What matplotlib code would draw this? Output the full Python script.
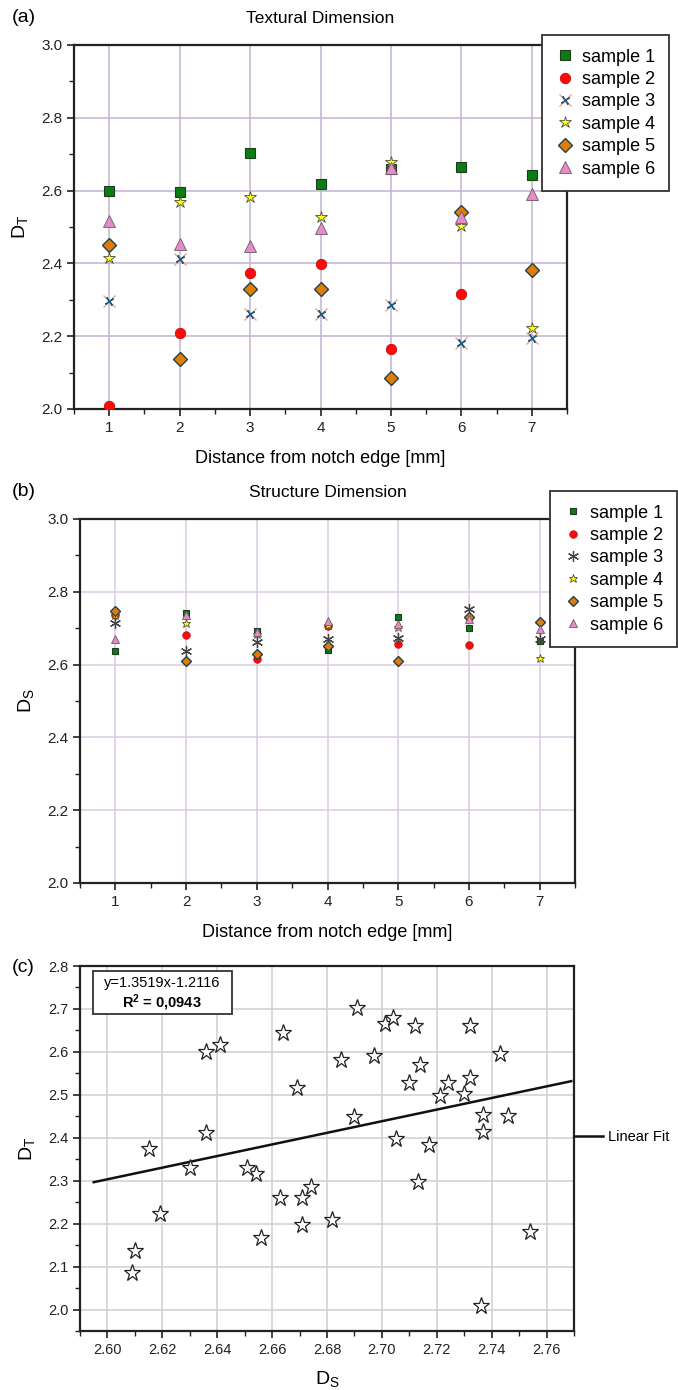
import numpy as np
import matplotlib
matplotlib.use("Agg")
import matplotlib.pyplot as plt
from matplotlib.patches import Rectangle
from matplotlib.ticker import MultipleLocator, FormatStrFormatter

plt.rcParams['font.family'] = ['Liberation Sans', 'DejaVu Sans']
plt.rcParams['mathtext.fontset'] = 'custom'
plt.rcParams['mathtext.rm'] = 'Liberation Sans'
plt.rcParams['mathtext.bf'] = 'Liberation Sans:bold'

nan = np.nan

# distance from the notch edge [mm]
distance = [1, 2, 3, 4, 5, 6, 7]
sample_names = ["sample 1", "sample 2", "sample 3", "sample 4", "sample 5", "sample 6"]

# textural dimension D_T per sample
dt_s1 = [2.600, 2.595, 2.702, 2.617, 2.660, 2.666, 2.643]
dt_s2 = [2.009, 2.208, 2.374, 2.398, 2.166, 2.315, nan]
dt_s3 = [2.298, 2.412, 2.260, 2.260, 2.285, 2.180, 2.196]
dt_s4 = [2.414, 2.570, 2.582, 2.528, 2.678, 2.503, 2.223]
dt_s5 = [2.451, 2.137, 2.329, 2.329, 2.086, 2.540, 2.382]
dt_s6 = [2.516, 2.453, 2.448, 2.497, 2.661, 2.527, 2.590]

# structure dimension D_S per sample
ds_s1 = [2.636, 2.743, 2.691, 2.641, 2.732, 2.701, 2.664]
ds_s2 = [2.736, 2.682, 2.615, 2.705, 2.656, 2.654, nan]
ds_s3 = [2.713, 2.636, 2.663, 2.671, 2.674, 2.754, 2.671]
ds_s4 = [2.737, 2.714, 2.685, 2.710, 2.704, 2.730, 2.619]
ds_s5 = [2.746, 2.610, 2.630, 2.651, 2.609, 2.732, 2.717]
ds_s6 = [2.669, 2.737, 2.690, 2.721, 2.712, 2.724, 2.697]

# linear fit D_T = slope * D_S + intercept
fit_slope = 1.3519
fit_intercept = -1.2116
fit_r2 = "0,0943"
fit_range = [2.595, 2.769]

dt_all = [dt_s1, dt_s2, dt_s3, dt_s4, dt_s5, dt_s6]
ds_all = [ds_s1, ds_s2, ds_s3, ds_s4, ds_s5, ds_s6]

W, H = 678, 1390
fig = plt.figure(figsize=(W / 100, H / 100), dpi=100)


def box(l, t, r, b):
    return [l / W, 1 - b / H, (r - l) / W, (b - t) / H]


ax_a = fig.add_axes(box(74, 45, 567, 409))
ax_b = fig.add_axes(box(80, 519, 575, 883))
ax_c = fig.add_axes(box(80, 966, 574, 1331))

spine_col = '#222222'


def style_axes(ax, grid_col, tick_fs):
    for s in ax.spines.values():
        s.set_linewidth(1.6)
        s.set_color(spine_col)
    ax.tick_params(which='both', direction='out', colors=spine_col,
                   labelsize=tick_fs, top=False, right=False)
    ax.tick_params(which='major', length=5, width=1.2)
    ax.tick_params(which='minor', length=3.5, width=1.0)
    ax.grid(True, which='major', color=grid_col, lw=1.1, zorder=0)
    ax.set_axisbelow(True)


def dimension_panel(ax, values, big, grid_col, title, ylab, legend_anchor):
    ax.set_xlim(0.5, 7.5)
    ax.set_ylim(2.0, 3.0)
    ax.xaxis.set_major_locator(MultipleLocator(1))
    ax.xaxis.set_minor_locator(MultipleLocator(0.5))
    ax.yaxis.set_major_locator(MultipleLocator(0.2))
    ax.yaxis.set_minor_locator(MultipleLocator(0.1))
    ax.yaxis.set_major_formatter(FormatStrFormatter('%.1f'))
    style_axes(ax, grid_col, 11)

    k = 1.0 if big else 0.72
    handles = []
    h, = ax.plot(distance, values[0], ls='none', marker='s', ms=6.5 * k,
                 mfc='#0b7d12', mec='#1d3b1d', mew=0.8, zorder=3)
    handles.append(h)
    h, = ax.plot(distance, values[1], ls='none', marker='o', ms=7.5 * k,
                 mfc='#ff0a0a', mec='#c01010', mew=0.6, zorder=3)
    handles.append(h)
    if big:
        h1, = ax.plot(distance, values[2], ls='none', marker='x', ms=8,
                      mec='#e9a58a', mew=1.0, zorder=3)
        h2, = ax.plot(distance, values[2], ls='none', marker=(4, 2, 35), ms=7,
                      mec='#1f5a80', mew=1.0, zorder=3)
        handles.append((h1, h2))
    else:
        h, = ax.plot(distance, values[2], ls='none', marker=(6, 2, 0), ms=8,
                     mec='#444444', mew=0.9, zorder=3)
        handles.append(h)
    h, = ax.plot(distance, values[3], ls='none', marker='*', ms=9 * k,
                 mfc='#ffff10', mec='#505030', mew=0.6, zorder=3)
    handles.append(h)
    h, = ax.plot(distance, values[4], ls='none', marker='D', ms=7.2 * k,
                 mfc='#dd7f06', mec='#24404c', mew=1.0, zorder=3)
    handles.append(h)
    h, = ax.plot(distance, values[5], ls='none', marker='^', ms=8.5 * k,
                 mfc='#e48bc8', mec='#6a5a6a', mew=0.6, zorder=3)
    handles.append(h)

    ax.set_title(title, fontsize=12.5, pad=15.5)
    ax.set_xlabel('Distance from notch edge [mm]', fontsize=13, labelpad=11)
    ax.set_ylabel(ylab, fontsize=14, labelpad=8)

    leg = ax.legend(handles, sample_names, loc='upper left',
                    bbox_to_anchor=legend_anchor, bbox_transform=fig.transFigure,
                    borderaxespad=0, fontsize=13, frameon=True, fancybox=False,
                    framealpha=1, edgecolor='#333333', handlelength=1.0,
                    handletextpad=0.45, labelspacing=0.3, borderpad=0.75)
    leg.get_frame().set_linewidth(1.3)
    leg.set_zorder(10)


dimension_panel(ax_a, dt_all, True, '#c2b3cf', 'Textural Dimension',
                r'$\mathregular{D_T}$', (542 / W, 1 - 35 / H))
dimension_panel(ax_b, ds_all, False, '#dacbe3', 'Structure Dimension',
                r'$\mathregular{D_S}$', (550 / W, 1 - 491 / H))

# panel (c): D_T against D_S for every sample and position
ax = ax_c
ax.set_xlim(2.59, 2.77)
ax.set_ylim(1.95, 2.8)
ax.xaxis.set_major_locator(MultipleLocator(0.02))
ax.xaxis.set_minor_locator(MultipleLocator(0.01))
ax.yaxis.set_major_locator(MultipleLocator(0.1))
ax.yaxis.set_minor_locator(MultipleLocator(0.05))
ax.xaxis.set_major_formatter(FormatStrFormatter('%.2f'))
ax.yaxis.set_major_formatter(FormatStrFormatter('%.1f'))
style_axes(ax, '#d0d0d0', 10.5)

xs = np.concatenate([np.asarray(v, float) for v in ds_all])
ys = np.concatenate([np.asarray(v, float) for v in dt_all])
ax.plot(xs, ys, ls='none', marker='*', ms=12.5, mfc='white', mec='#222222',
        mew=0.9, zorder=3)

fx = np.array(fit_range)
fit_line, = ax.plot(fx, fit_slope * fx + fit_intercept, color='#111111',
                    lw=1.8, zorder=2)

ax.add_patch(Rectangle((93 / W, 1 - 1014 / H), (232 - 93) / W, (1014 - 971) / H,
                       transform=fig.transFigure, fill=True, facecolor='white',
                       edgecolor='#333333', lw=1.3, zorder=5))
fig.text(162 / W, 1 - 983 / H, 'y=1.3519x-1.2116', fontsize=10.5,
         ha='center', va='center', zorder=6)
fig.text(162 / W, 1 - 1003 / H, r'$\mathbf{R^2}$' + ' = ' + fit_r2,
         fontsize=10.5, fontweight='bold', ha='center', va='center', zorder=6)

ax.set_xlabel(r'$\mathregular{D_S}$', fontsize=14, labelpad=9)
ax.set_ylabel(r'$\mathregular{D_T}$', fontsize=14, labelpad=8)

fig.legend([fit_line], ['Linear Fit'], loc='center left',
           bbox_to_anchor=(574 / W, 1 - 1137 / H), frameon=False, fontsize=10.5,
           handlelength=2.0, handletextpad=0.3, borderaxespad=0, borderpad=0)

# panel letters
fig.text(12 / W, 1 - 18 / H, '(a)', fontsize=14, ha='left', va='center')
fig.text(12 / W, 1 - 492 / H, '(b)', fontsize=14, ha='left', va='center')
fig.text(12 / W, 1 - 967 / H, '(c)', fontsize=14, ha='left', va='center')

fig.savefig('out.png', dpi=100, facecolor='white')
